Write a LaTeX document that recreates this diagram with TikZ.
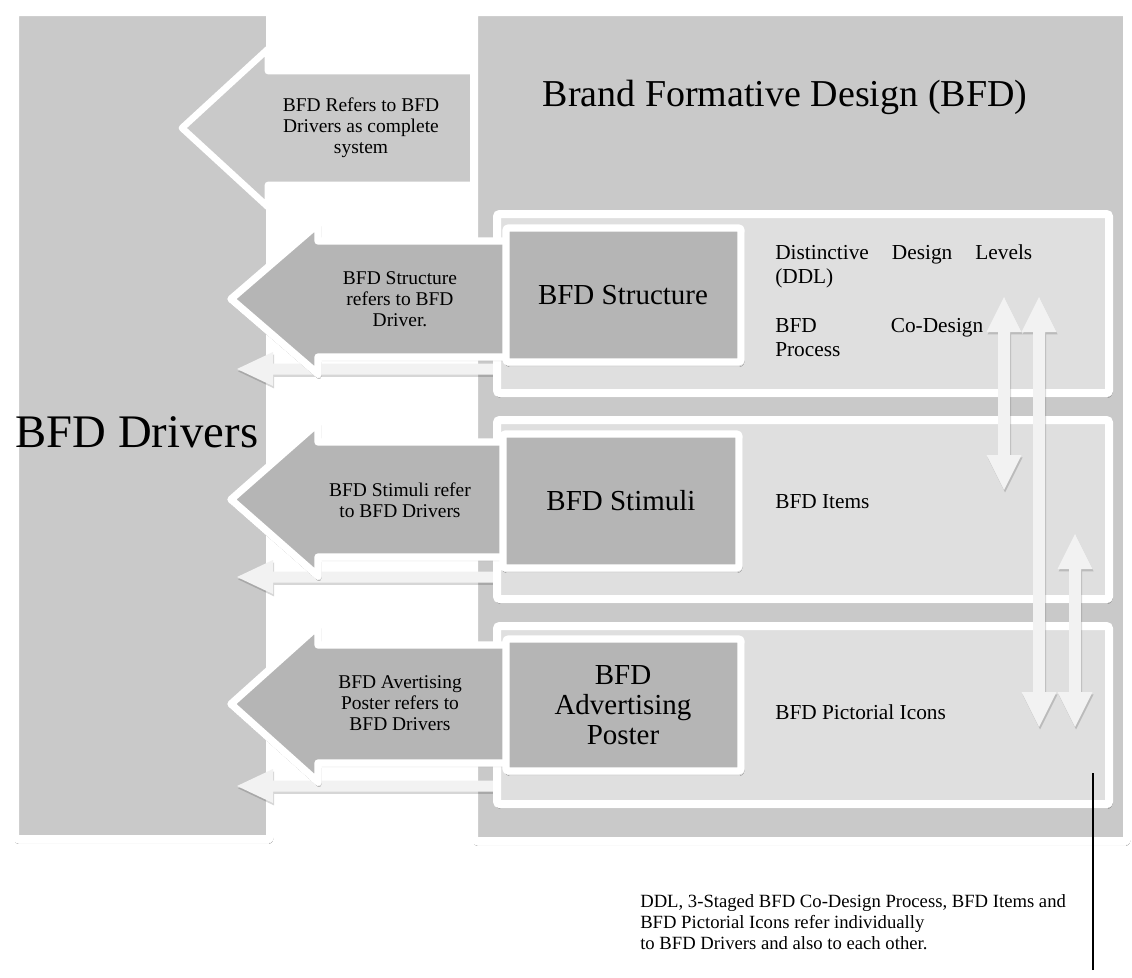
\documentclass[tikz,border=0pt]{standalone}
\usepackage{fontspec}
\setmainfont{Liberation Serif}
\usetikzlibrary{shadows,shadows.blur}

% colours of the panels and arrows
\definecolor{panelgray}{HTML}{C9C9C9}
\definecolor{rowgray}{HTML}{DFDFDF}
\definecolor{boxgray}{HTML}{B5B5B5}
\definecolor{lightarrow}{HTML}{F2F2F2}

% left-pointing block arrow: style, tip x, centre y, head x, head half height, body half height, end x
\newcommand{\bfdBlockArrow}[7]{%
  \path[#1] (#2,#3) -- (#4,#3-#5) -- (#4,#3-#6) -- (#7,#3-#6) -- (#7,#3+#6)
    -- (#4,#3+#6) -- (#4,#3+#5) -- cycle;}
% thin light arrow pointing left: centre y
\newcommand{\bfdThinArrow}[1]{%
  \path[thinarr] (237,#1) -- (273,#1-17) -- (273,#1-5.5) -- (493,#1-5.5) -- (493,#1+5.5)
    -- (273,#1+5.5) -- (273,#1+17) -- cycle;}
% vertical double-headed arrow: x, top y, bottom y
\newcommand{\bfdTwoWay}[3]{%
  \path[thinarr] (#1,#2) -- (#1+17.5,#2+35) -- (#1+6,#2+35) -- (#1+6,#3-35) -- (#1+17.5,#3-35)
    -- (#1,#3) -- (#1-17.5,#3-35) -- (#1-6,#3-35) -- (#1-6,#2+35) -- (#1-17.5,#2+35) -- cycle;}

\tikzset{
  softshadow/.style={blur shadow={shadow xshift=0.8pt, shadow yshift=-2pt,
      shadow blur radius=1.6pt, shadow opacity=28}},
  panel/.style={fill=panelgray, draw=white, line width=6pt, rounded corners=2pt, softshadow},
  rowpanel/.style={fill=rowgray, draw=white, line width=6pt, rounded corners=2pt, softshadow},
  itembox/.style={fill=boxgray, draw=white, line width=5.5pt, rounded corners=2pt, softshadow},
  bigarr/.style={fill=boxgray, draw=white, line width=5.5pt, line join=round, softshadow},
  toparr/.style={fill=panelgray, draw=white, line width=5pt, line join=round},
  thinarr/.style={fill=lightarrow, drop shadow={shadow xshift=0.8pt, shadow yshift=-1.8pt,
      fill=black, opacity=0.16}},
  hugetext/.style={font=\fontsize{35}{40}\selectfont, inner sep=0pt},
  titletext/.style={font=\fontsize{28.5}{32}\selectfont, inner sep=0pt},
  boxtext/.style={font=\fontsize{21.75}{22.5}\selectfont, align=center, inner sep=0pt},
  arrowtext/.style={font=\fontsize{14.6}{15.75}\selectfont, align=center, inner sep=0pt},
  sidetext/.style={font=\fontsize{16}{18}\selectfont, align=left, inner sep=0pt, anchor=west},
  notetext/.style={font=\fontsize{14}{15.75}\selectfont, align=left, inner sep=0pt, anchor=west},
}

\begin{document}
\begin{tikzpicture}[x=0.75pt, y=-0.75pt]
\useasboundingbox[fill=white] (0,0) rectangle (1132,978);

% main panels
\path[panel] (15,12) rectangle (270,839);
\bfdBlockArrow{toparr}{182}{128}{268}{79}{57}{474}
\path[panel] (474,12) rectangle (1127,841);

% thin arrows back to the drivers
\bfdThinArrow{369}
\bfdThinArrow{577}
\bfdThinArrow{786}

% rows of the design panel
\path[rowpanel] (497,214) rectangle (1109,393);
\path[rowpanel] (497,420) rectangle (1109,599);
\path[rowpanel] (497,626) rectangle (1109,804);

% block arrows from the items to the drivers
\bfdBlockArrow{bigarr}{231}{299}{318}{75}{58}{510}
\bfdBlockArrow{bigarr}{231}{499.5}{318}{76.5}{57.5}{510}
\bfdBlockArrow{bigarr}{231}{704}{318}{78}{59}{510}

% item boxes
\path[itembox] (506,228) rectangle (741,362);
\path[itembox] (503,434) rectangle (739,568);
\path[itembox] (506,639) rectangle (741,771);

% arrows between the levels
\bfdTwoWay{1004}{297}{490}
\bfdTwoWay{1039}{297}{727}
\bfdTwoWay{1075}{534}{727}

% texts
\node[hugetext] (drivers) at (137,432) {BFD Drivers};
\node[titletext] (bfd) at (785,97) {Brand Formative Design (BFD)};
\node[arrowtext] (lbl0) at (361,128) {BFD Refers to BFD\\Drivers as complete\\system};
\node[arrowtext] (lbl1) at (400,299) {BFD Structure\\refers to BFD\\Driver.};
\node[arrowtext] (lbl2) at (400,500) {BFD Stimuli refer\\to BFD Drivers};
\node[arrowtext] (lbl3) at (400,703) {BFD Avertising\\Poster refers to\\BFD Drivers};
\node[boxtext] (structure) at (623,295) {BFD Structure};
\node[boxtext] (stimuli) at (621,501) {BFD Stimuli};
\node[boxtext] (poster) at (623,705) {BFD\\Advertising\\Poster};
\node[sidetext, text width=257*0.75pt] (ddl) at (775,266) {Distinctive\hfill Design\hfill Levels\\(DDL)};
\node[sidetext, text width=208*0.75pt] (codesign) at (775,338) {BFD\hfill Co-Design\\Process};
\node[sidetext] (items) at (775,502) {BFD Items};
\node[sidetext] (icons) at (775,712) {BFD Pictorial Icons};
\node[notetext] (note) at (640,922) {DDL, 3-Staged BFD Co-Design Process, BFD Items and\\BFD Pictorial Icons refer individually\\to BFD Drivers and also to each other.};

% pointer line from the note up into the last row
\coordinate (ptrtop) at (1093,773);
\coordinate (ptrbot) at (1093,970);
\draw[line width=1.6pt] (ptrbot) -- (ptrtop);
\end{tikzpicture}
\end{document}
